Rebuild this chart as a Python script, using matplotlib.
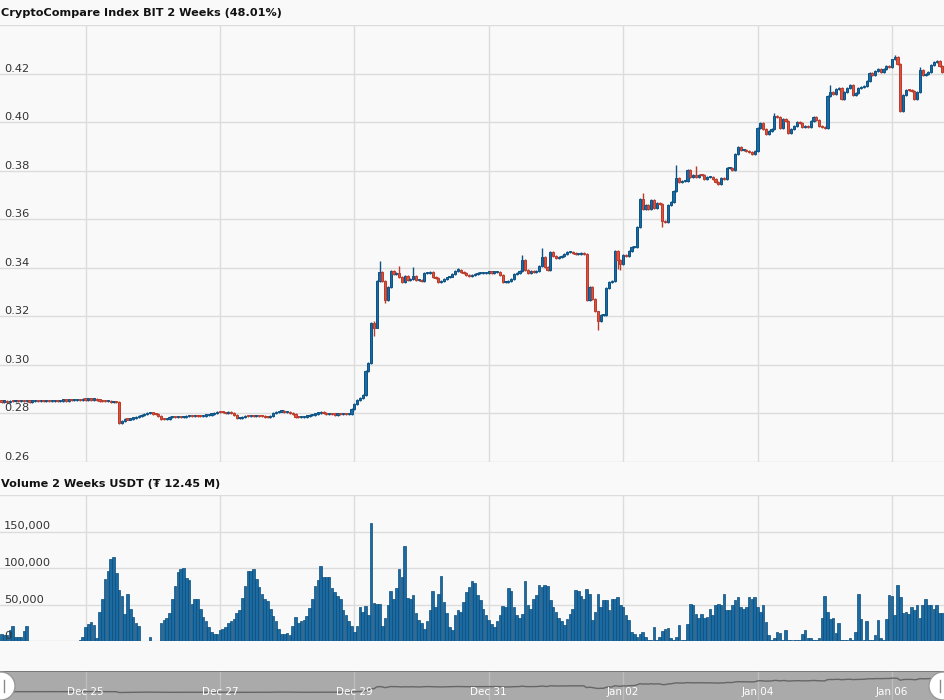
import numpy as np
import pandas as pd
import matplotlib
matplotlib.use("Agg")
import matplotlib.pyplot as plt
import matplotlib.dates as mdates
from matplotlib.patches import Circle
from matplotlib.lines import Line2D

# hourly candles, first one at Dec 23 18:00
START = "2017-12-23 18:00"
FIRST_OPEN = 0.2850

CLOSE = [
    # Dec 23 18h-23h
    0.2849, 0.2850, 0.2848, 0.2851, 0.2850, 0.2852,
    # Dec 24
    0.2851, 0.2852, 0.2850, 0.2851, 0.2849, 0.2850, 0.2851, 0.2850, 0.2852, 0.2851, 0.2852, 0.2851,
    0.2852, 0.2853, 0.2852, 0.2853, 0.2854, 0.2853, 0.2855, 0.2854, 0.2856, 0.2857, 0.2856, 0.2858,
    # Dec 25
    0.2857, 0.2858, 0.2857, 0.2858, 0.2855, 0.2853, 0.2852, 0.2850, 0.2851, 0.2848, 0.2849, 0.2848,
    0.2762, 0.2770, 0.2776, 0.2775, 0.2779, 0.2781, 0.2786, 0.2789, 0.2794, 0.2797, 0.2800, 0.2803,
    # Dec 26
    0.2799, 0.2796, 0.2790, 0.2778, 0.2776, 0.2779, 0.2784, 0.2786, 0.2784, 0.2785, 0.2784, 0.2786,
    0.2788, 0.2790, 0.2789, 0.2790, 0.2789, 0.2788, 0.2791, 0.2792, 0.2795, 0.2797, 0.2801, 0.2806,
    # Dec 27
    0.2805, 0.2804, 0.2803, 0.2805, 0.2802, 0.2795, 0.2780, 0.2782, 0.2786, 0.2789, 0.2788, 0.2790,
    0.2789, 0.2790, 0.2789, 0.2788, 0.2786, 0.2785, 0.2790, 0.2800, 0.2806, 0.2808, 0.2810, 0.2806,
    # Dec 28
    0.2808, 0.2803, 0.2797, 0.2786, 0.2784, 0.2786, 0.2787, 0.2789, 0.2792, 0.2795, 0.2799, 0.2802,
    0.2805, 0.2801, 0.2797, 0.2799, 0.2797, 0.2795, 0.2797, 0.2796, 0.2797, 0.2796, 0.2797, 0.2818,
    # Dec 29
    0.2838, 0.2857, 0.2862, 0.2876, 0.2975, 0.3007, 0.3174, 0.3154, 0.3346, 0.3382, 0.3346, 0.3267,
    0.3322, 0.3388, 0.3374, 0.3378, 0.3363, 0.3340, 0.3367, 0.3349, 0.3353, 0.3367, 0.3349, 0.3351,
    # Dec 30
    0.3344, 0.3378, 0.3378, 0.3381, 0.3363, 0.3357, 0.3342, 0.3346, 0.3353, 0.3360, 0.3364, 0.3374,
    0.3388, 0.3390, 0.3381, 0.3377, 0.3371, 0.3367, 0.3370, 0.3374, 0.3377, 0.3378, 0.3379, 0.3380,
    # Dec 31
    0.3381, 0.3380, 0.3381, 0.3381, 0.3371, 0.3340, 0.3342, 0.3346, 0.3353, 0.3374, 0.3378, 0.3385,
    0.3433, 0.3390, 0.3378, 0.3385, 0.3381, 0.3385, 0.3408, 0.3443, 0.3404, 0.3390, 0.3466, 0.3449,
    # Jan 01
    0.3440, 0.3445, 0.3447, 0.3456, 0.3466, 0.3466, 0.3459, 0.3456, 0.3456, 0.3459, 0.3456, 0.3267,
    0.3322, 0.3271, 0.3220, 0.3179, 0.3206, 0.3206, 0.3316, 0.3340, 0.3346, 0.3470, 0.3432, 0.3415,
    # Jan 02
    0.3454, 0.3447, 0.3470, 0.3484, 0.3486, 0.3569, 0.3683, 0.3642, 0.3658, 0.3642, 0.3679, 0.3646,
    0.3665, 0.3662, 0.3591, 0.3587, 0.3658, 0.3669, 0.3715, 0.3770, 0.3752, 0.3757, 0.3759, 0.3804,
    # Jan 03
    0.3775, 0.3783, 0.3772, 0.3783, 0.3782, 0.3766, 0.3772, 0.3775, 0.3766, 0.3752, 0.3745, 0.3770,
    0.3764, 0.3811, 0.3811, 0.3804, 0.3869, 0.3896, 0.3885, 0.3886, 0.3880, 0.3876, 0.3869, 0.3882,
    # Jan 04
    0.3976, 0.3997, 0.3972, 0.3951, 0.3962, 0.3972, 0.4027, 0.4020, 0.3976, 0.4013, 0.4006, 0.3955,
    0.3972, 0.3985, 0.3999, 0.3996, 0.3979, 0.3986, 0.3979, 0.4006, 0.4020, 0.4010, 0.3985, 0.3979,
    # Jan 05
    0.3976, 0.4106, 0.4123, 0.4116, 0.4137, 0.4142, 0.4096, 0.4123, 0.4139, 0.4153, 0.4112, 0.4120,
    0.4139, 0.4145, 0.4150, 0.4171, 0.4203, 0.4192, 0.4212, 0.4219, 0.4208, 0.4219, 0.4230, 0.4226,
    # Jan 06 0h-18h
    0.4258, 0.4267, 0.4240, 0.4047, 0.4112, 0.4134, 0.4131, 0.4128, 0.4096, 0.4123, 0.4216, 0.4194,
    0.4199, 0.4205, 0.4237, 0.4247, 0.4250, 0.4230, 0.4208,
]

# notable wick extremes (candle index -> price)
HIGH_WICKS = {133: 0.3180, 135: 0.3429, 142: 0.3408, 147: 0.3404, 163: 0.3400, 186: 0.3452,
              193: 0.3480, 229: 0.3706, 241: 0.3825, 248: 0.3818, 276: 0.4036, 296: 0.4153,
              319: 0.4275, 328: 0.4225}
LOW_WICKS = {42: 0.2757, 133: 0.3119, 137: 0.3255, 209: 0.3262, 213: 0.3143, 220: 0.3395,
             221: 0.3390, 236: 0.3569, 321: 0.4040}

# volume in thousands of USDT
VOLUME_K = [
    10, 8, 8, 15, 20, 6,
    6, 6, 14, 20, 0.4, 0.4, 0.4, 0.4, 0.4, 0.4, 0.4, 0.4, 0.4, 0.4, 0.4, 0.4,
    0.4, 0.4, 0.4, 0.4, 0.4, 0.4, 2, 6,
    19, 23, 26, 22, 4, 40, 57, 85, 96, 113, 115, 93, 70, 61, 37, 65, 44, 33, 24, 20, 0.5, 0.5, 0.5, 5,
    0.5, 0.5, 0.5, 24, 29, 32, 38, 58, 76, 95, 98, 100, 86, 83, 51, 57, 58, 44, 33, 27, 19, 13, 10, 10,
    15, 17, 19, 24, 27, 30, 38, 42, 59, 75, 96, 96, 99, 85, 74, 64, 58, 55, 44, 34, 27, 16, 10, 9,
    11, 8, 21, 33, 24, 27, 29, 34, 45, 57, 75, 84, 103, 87, 87, 87, 73, 67, 61, 57, 43, 36, 28, 21,
    12, 21, 47, 40, 48, 35, 161, 52, 51, 51, 21, 31, 50, 69, 58, 73, 98, 88, 130, 59, 58, 63, 39, 29,
    25, 17, 28, 42, 68, 47, 64, 89, 53, 38, 19, 15, 35, 43, 40, 53, 67, 74, 82, 79, 63, 56, 44, 36,
    29, 23, 19, 28, 36, 48, 46, 72, 68, 46, 35, 32, 37, 82, 49, 44, 58, 63, 77, 74, 77, 75, 56, 47,
    40, 31, 28, 22, 30, 37, 44, 70, 68, 61, 58, 71, 65, 29, 40, 65, 46, 56, 56, 42, 58, 57, 60, 49,
    46, 36, 29, 12, 9, 6, 9, 12, 5, 2, 2, 19, 1, 5, 14, 16, 18, 4, 1, 5, 22, 2, 1, 23,
    51, 50, 37, 32, 37, 31, 33, 44, 36, 50, 51, 49, 65, 43, 43, 49, 56, 60, 47, 44, 47, 60, 57, 60,
    46, 40, 49, 26, 8, 2, 4, 12, 11, 1, 15, 2, 2, 1, 1, 1, 9, 15, 4, 4, 2, 1, 4, 32,
    61, 40, 30, 32, 11, 25, 1, 1, 2, 4, 2, 12, 65, 30, 2, 28, 2, 2, 8, 29, 4, 2, 30, 63,
    61, 35, 77, 60, 39, 40, 37, 47, 43, 50, 32, 49, 57, 50, 50, 44, 50, 39, 39,
]

PRICE_TICKS = [0.26, 0.28, 0.30, 0.32, 0.34, 0.36, 0.38, 0.40, 0.42, 0.44]
VOL_TICKS = [0, 50000, 100000, 150000, 200000]
DATE_TICKS = ["2017-12-25", "2017-12-27", "2017-12-29", "2017-12-31",
              "2018-01-02", "2018-01-04", "2018-01-06"]
DATE_LABELS = ["Dec 25", "Dec 27", "Dec 29", "Dec 31", "Jan 02", "Jan 04", "Jan 06"]
TITLE_PRICE = "CryptoCompare Index BIT 2 Weeks (48.01%)"
TITLE_VOL = "Volume 2 Weeks USDT (\u20ae 12.45 M)"

BG = "#f9f9f9"
GRID = "#dcdcdc"
UP_FILL, UP_EDGE = "#1a6aa3", "#0c5283"
DN_FILL, DN_EDGE = "#e0513d", "#b93b2b"
VOL_FILL, VOL_EDGE = "#1b6aa2", "#0b4c7a"

times = pd.date_range(START, periods=len(CLOSE), freq="h")
x = mdates.date2num(times.to_pydatetime())
hour = 1.0 / 24
close = np.array(CLOSE)
opens = np.array([FIRST_OPEN] + CLOSE[:-1])
up = close >= opens
top = np.maximum(opens, close)
bot = np.minimum(opens, close)
highs = np.array([HIGH_WICKS.get(i, t + 0.0004) for i, t in enumerate(top)])
lows = np.array([LOW_WICKS.get(i, b - 0.0004) for i, b in enumerate(bot)])
vol = np.array(VOLUME_K) * 1000.0
tick_x = mdates.date2num(pd.to_datetime(DATE_TICKS).to_pydatetime())
xlim = (x[0] - 0.54 * hour, x[0] + 336.6 * hour)

fig = plt.figure(figsize=(9.44, 7), dpi=100, facecolor=BG)
ax = fig.add_axes([0, 1 - 462 / 700, 1, 437 / 700])
axv = fig.add_axes([0, 1 - 641 / 700, 1, 146 / 700])
axn = fig.add_axes([0, 0, 1, 29 / 700])

for a in (ax, axv, axn):
    a.set_facecolor(BG)
    for s in a.spines.values():
        s.set_visible(False)
    a.set_xlim(*xlim)
    a.set_xticks(tick_x)
    a.tick_params(length=0, labelleft=False, labelbottom=False)

# price panel
ax.set_ylim(0.26, 0.44)
ax.set_yticks(PRICE_TICKS)
ax.grid(color=GRID, lw=1, zorder=0)
ax.set_axisbelow(True)
edges = np.where(up, UP_EDGE, DN_EDGE)
ax.vlines(x, lows, highs, colors=edges, lw=1.0, zorder=2)
ax.bar(x, np.maximum(top - bot, 0.0005), width=0.8 * hour, bottom=bot,
       color=np.where(up, UP_FILL, DN_FILL), edgecolor=edges, linewidth=0.7, zorder=3)
for v in PRICE_TICKS[:-1]:
    ax.annotate("%.2f" % v, xy=(0, v), xycoords=("axes fraction", "data"), xytext=(4, 2),
                textcoords="offset pixels", fontsize=8.2, color="#333333", va="baseline", zorder=6)

# volume panel
axv.set_ylim(0, 200000)
axv.set_yticks(VOL_TICKS)
axv.grid(color=GRID, lw=1, zorder=0)
axv.set_axisbelow(True)
axv.bar(x, vol, width=0.9 * hour, color=VOL_FILL, edgecolor=VOL_EDGE, linewidth=0.5, zorder=3)
for v in VOL_TICKS[:-1]:
    axv.annotate("{:,}".format(v), xy=(0, v), xycoords=("axes fraction", "data"), xytext=(4, 2),
                 textcoords="offset pixels", fontsize=8.2, color="#333333", va="baseline", zorder=6)

# navigator
axn.set_facecolor("#aaaaaa")
axn.set_ylim(0.198, 0.501)
axn.grid(axis="x", color="#bdbdbd", lw=1, zorder=0)
axn.plot(x, close, color="#666666", lw=1.0, zorder=2)
axn.axhline(0.501, color="#6f6f6f", lw=1.2, zorder=3)
for tx, lab in zip(tick_x, DATE_LABELS):
    axn.text(tx, 0.285, lab, color="white", fontsize=7.5, ha="center", va="center", zorder=4)

for cx in (1, 943):
    fig.add_artist(Circle((cx / 100, 0.14), 0.14, transform=fig.dpi_scale_trans,
                          facecolor="white", edgecolor="#9a9a9a", lw=1, zorder=10))
    lx = (cx + (3 if cx < 500 else -3)) / 100
    fig.add_artist(Line2D([lx, lx], [0.08, 0.20], transform=fig.dpi_scale_trans,
                          color="#8a8a8a", lw=1, zorder=11))

fig.text(1 / 944, 1 - 13 / 700, TITLE_PRICE, fontsize=8.1, fontweight="bold", color="#111111",
         ha="left", va="center")
fig.text(1 / 944, 1 - 484 / 700, TITLE_VOL, fontsize=8.1, fontweight="bold", color="#111111",
         ha="left", va="center")

fig.savefig("out.png", dpi=100, facecolor=BG)
